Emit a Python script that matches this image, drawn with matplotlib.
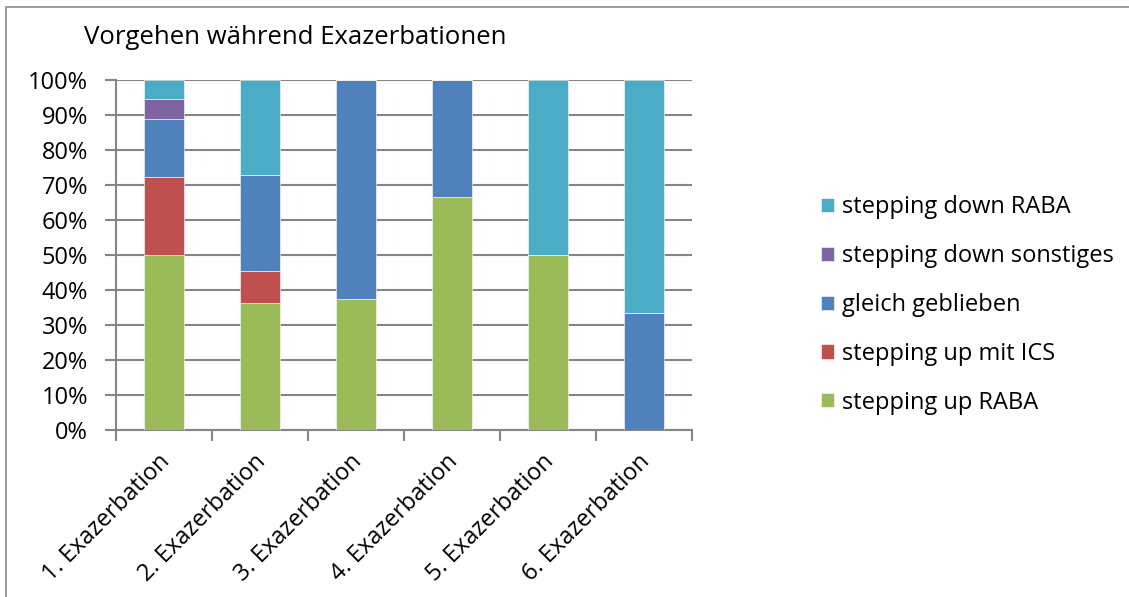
import numpy as np
import matplotlib.pyplot as plt
import matplotlib.transforms as mtransforms
from matplotlib.patches import Rectangle

plt.rcParams['font.family'] = ['Open Sans', 'DejaVu Sans']

categories = ["1. Exazerbation", "2. Exazerbation", "3. Exazerbation",
              "4. Exazerbation", "5. Exazerbation", "6. Exazerbation"]

# share of patients in %, bottom to top
up_raba = [50.0, 36.4, 37.5, 66.7, 50.0, 0.0]
up_ics = [22.2, 9.1, 0.0, 0.0, 0.0, 0.0]
gleich = [16.7, 27.3, 62.5, 33.3, 0.0, 33.3]
down_sonst = [5.6, 0.0, 0.0, 0.0, 0.0, 0.0]
down_raba = [5.6, 27.3, 0.0, 0.0, 50.0, 66.7]

series = [
    ("stepping up RABA", up_raba, "#9BBB59"),
    ("stepping up mit ICS", up_ics, "#C0504D"),
    ("gleich geblieben", gleich, "#4F81BD"),
    ("stepping down sonstiges", down_sonst, "#8064A2"),
    ("stepping down RABA", down_raba, "#4BACC6"),
]

W, H = 1129, 597
fig = plt.figure(figsize=(W / 100, H / 100), dpi=100)

# chart frame
fig.patches.append(Rectangle((6 / W, -0.1), 1.2, (H - 7) / H + 0.1,
                             transform=fig.transFigure, fill=False,
                             edgecolor="#8c8c8c", linewidth=1.2))

ax = fig.add_axes([116 / W, (H - 430) / H, (692 - 116) / W, 350 / H])

x = np.arange(len(categories))
bottom = np.zeros(len(categories))
handles = []
for name, vals, col in series:
    vals = np.array(vals)
    b = ax.bar(x, vals, width=0.41, bottom=bottom, color=col,
               edgecolor="white", linewidth=0.4, label=name, zorder=3)
    handles.append(b)
    bottom += vals

ax.set_xlim(-0.5, len(categories) - 0.5)
ax.set_ylim(0, 100)
ax.set_yticks(np.arange(0, 101, 10))
ax.set_yticklabels([f"{v}%" for v in range(0, 101, 10)], fontsize=17)
ax.yaxis.grid(True, color="#868686", linewidth=1.5, zorder=0)

ax.set_xticks(np.arange(-0.5, len(categories)), minor=False)
ax.set_xticklabels([])
ax.set_xticks(x, minor=True)
ax.set_xticklabels(categories, minor=True, rotation=45, ha="right",
                   va="top", rotation_mode="anchor", fontsize=17)
ax.tick_params(axis="x", which="minor", length=0, pad=14)
ax.tick_params(axis="x", which="major", length=8, width=1.5, color="#868686",
               direction="out")
ax.tick_params(axis="y", length=8, width=1.5, color="#868686", pad=12)

# nudge category labels a little to the left
shift = mtransforms.ScaledTranslation(-6 / 100, 0, fig.dpi_scale_trans)
for lbl in ax.get_xticklabels(minor=True):
    lbl.set_transform(lbl.get_transform() + shift)

for side in ("top", "right"):
    ax.spines[side].set_visible(False)
for side in ("left", "bottom"):
    ax.spines[side].set_color("#868686")
    ax.spines[side].set_linewidth(1.5)

fig.text(84 / W, 1 - 37 / H, "Vorgehen während Exazerbationen",
         fontsize=18.5, va="center", ha="left")

fig.legend(handles[::-1], [s[0] for s in series][::-1],
           loc="center left", bbox_to_anchor=(800 / W, 1 - 305 / H),
           frameon=False, fontsize=17, handlelength=0.55, handleheight=0.55,
           handletextpad=0.35, labelspacing=1.05)

fig.savefig("out.png", dpi=100)
